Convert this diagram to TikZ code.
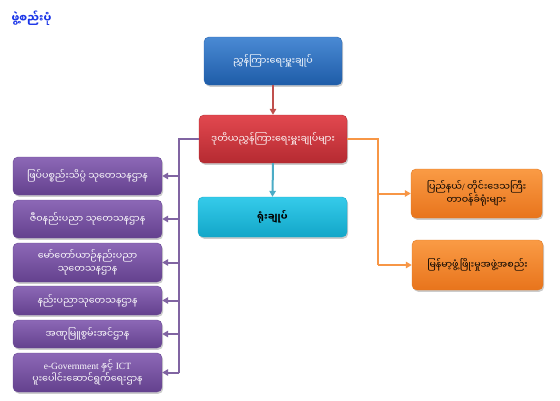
\documentclass[tikz,border=0pt]{standalone}
\usepackage{fontspec}
\setmainfont{Liberation Serif}
\newfontfamily\mm[Script=Myanmar]{Noto Sans Myanmar UI}
\usetikzlibrary{shadows,arrows.meta}
\definecolor{bluetop}{HTML}{4A8AD4}
\definecolor{bluebot}{HTML}{1E5CA8}
\definecolor{bluedraw}{HTML}{2A66B0}
\definecolor{redtop}{HTML}{E2484F}
\definecolor{redbot}{HTML}{B52A31}
\definecolor{reddraw}{HTML}{B02C33}
\definecolor{cyantop}{HTML}{35CBEA}
\definecolor{cyanbot}{HTML}{12A6C8}
\definecolor{cyandraw}{HTML}{1AA8C8}
\definecolor{orangetop}{HTML}{FA9B45}
\definecolor{orangebot}{HTML}{E8741C}
\definecolor{orangedraw}{HTML}{E07A25}
\definecolor{purpletop}{HTML}{8C68B6}
\definecolor{purplebot}{HTML}{64418E}
\definecolor{purpledraw}{HTML}{6A4A95}
\definecolor{lred}{HTML}{C0504D}
\definecolor{lcyan}{HTML}{4BACC6}
\definecolor{lorange}{HTML}{F79646}
\definecolor{lpurple}{HTML}{8064A2}
\definecolor{titleblue}{HTML}{1A35E8}
\tikzset{
  x=1pt,y=-1pt,
  box/.style={rounded corners=5pt, align=center, inner sep=2pt,
    font=\mm\fontsize{9.5}{12.5}\selectfont, line width=0.4pt,
    drop shadow={opacity=0.4, shadow xshift=1.2pt, shadow yshift=-1.8pt}},
  bluebox/.style={box, top color=bluetop, bottom color=bluebot, draw=bluedraw, text=white},
  redbox/.style={box, top color=redtop, bottom color=redbot, draw=reddraw, text=white},
  cyanbox/.style={box, top color=cyantop, bottom color=cyanbot, draw=cyandraw, text=black},
  orangebox/.style={box, top color=orangetop, bottom color=orangebot, draw=orangedraw, text=black},
  purplebox/.style={box, top color=purpletop, bottom color=purplebot, draw=purpledraw, text=white,
    minimum width=149pt},
  link/.style={line width=2pt, -{Triangle[length=6pt,width=6.5pt]}},
  plain/.style={line width=2pt}
}
\begin{document}
\begin{tikzpicture}
\useasboundingbox (0,0) rectangle (560,400);
\fill[white] (0,0) rectangle (560,400);

\node[anchor=west, text=titleblue, font=\mm\bfseries\fontsize{11}{13}\selectfont] (title) at (8,18) {ဖွဲ့စည်းပုံ};

\node[bluebox, minimum width=138pt, minimum height=48pt] (top) at (273,61) {ညွှန်ကြားရေးမှူးချုပ်};
\node[redbox, minimum width=148pt, minimum height=48pt] (red) at (273,139) {ဒုတိယညွှန်ကြားရေးမှူးချုပ်များ};
\node[cyanbox, minimum width=149pt, minimum height=40pt, font=\mm\bfseries\fontsize{9.5}{12.5}\selectfont] (cyan) at (272.5,217) {ရုံးချုပ်};
\node[orangebox, minimum width=131pt, minimum height=49pt] (o1) at (476.5,193.5) {ပြည်နယ်{\rmfamily /} တိုင်းဒေသကြီး\\တာဝန်ခံရုံးများ};
\node[orangebox, minimum width=131pt, minimum height=50pt] (o2) at (477.5,265) {မြန်မာ့ဖွံ့ဖြိုးမှုအဖွဲ့အစည်း};

\node[purplebox, minimum height=38pt] (p1) at (87.5,176) {ဖြပ်ပစ္စည်းသိပ္ပံ သုတေသနဌာန};
\node[purplebox, minimum height=38pt] (p2) at (87.5,219) {ဇီဝနည်းပညာ သုတေသနဌာန};
\node[purplebox, minimum height=39pt] (p3) at (87.5,262.5) {မော်တော်ယာဉ်နည်းပညာ\\သုတေသနဌာန};
\node[purplebox, minimum height=29pt] (p4) at (87.5,300.5) {နည်းပညာသုတေသနဌာန};
\node[purplebox, minimum height=28pt] (p5) at (87.5,334) {အဏုမြူစွမ်းအင်ဌာန};
\node[purplebox, minimum height=39pt] (p6) at (87.5,372.5) {{\rmfamily e-Government} နှင့် {\rmfamily ICT}\\ပူးပေါင်းဆောင်ရွက်ရေးဌာန};

\draw[link, lred] (top.south) -- (red.north);
\draw[link, lcyan] (red.south) -- (cyan.north);

\coordinate (oj) at (378,139);
\draw[plain, lorange] (red.east) -- (oj) -- (oj |- o2.west);
\draw[link, lorange] (oj |- o1.west) -- (o1.west);
\draw[link, lorange] (oj |- o2.west) -- (o2.west);

\coordinate (pj) at (179,139);
\draw[plain, lpurple] (red.west) -- (pj) -- (pj |- p6.east);
\foreach \p in {p1,p2,p3,p4,p5,p6}
  \draw[link, lpurple] (pj |- \p.east) -- (\p.east);
\end{tikzpicture}
\end{document}
